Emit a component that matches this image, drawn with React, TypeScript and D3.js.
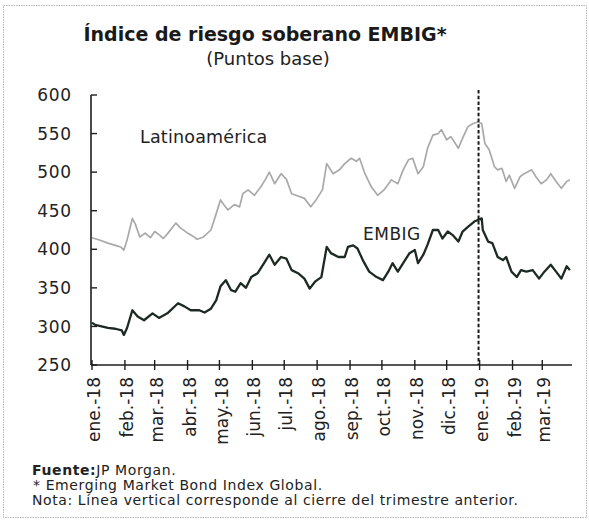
import React from "react";
import * as d3 from "d3";

const monthLabels = [
  "ene.-18", "feb.-18", "mar.-18", "abr.-18", "may.-18", "jun.-18", "jul.-18",
  "ago.-18", "sep.-18", "oct.-18", "nov.-18", "dic.-18", "ene.-19", "feb.-19", "mar.-19",
];
const yTicks = [250, 300, 350, 400, 450, 500, 550, 600];

const latamDates = [
  "2018-01-01", "2018-01-08", "2018-01-16", "2018-01-23", "2018-01-28", "2018-01-31",
  "2018-02-03", "2018-02-08", "2018-02-11", "2018-02-15", "2018-02-20", "2018-02-25",
  "2018-03-01", "2018-03-06", "2018-03-09", "2018-03-13", "2018-03-21", "2018-03-25",
  "2018-04-01", "2018-04-06", "2018-04-10", "2018-04-16", "2018-04-23", "2018-04-27",
  "2018-05-02", "2018-05-05", "2018-05-09", "2018-05-15", "2018-05-20", "2018-05-23",
  "2018-05-28", "2018-06-03", "2018-06-09", "2018-06-13", "2018-06-17", "2018-06-22",
  "2018-06-28", "2018-07-03", "2018-07-08", "2018-07-14", "2018-07-20", "2018-07-26",
  "2018-07-31", "2018-08-06", "2018-08-10", "2018-08-16", "2018-08-22", "2018-08-27",
  "2018-09-02", "2018-09-07", "2018-09-10", "2018-09-15", "2018-09-21", "2018-09-27",
  "2018-10-03", "2018-10-10", "2018-10-16", "2018-10-21", "2018-10-26", "2018-10-30",
  "2018-11-04", "2018-11-09", "2018-11-13", "2018-11-18", "2018-11-23", "2018-11-26",
  "2018-12-01", "2018-12-05", "2018-12-12", "2018-12-16", "2018-12-21", "2018-12-26",
  "2018-12-30", "2019-01-03", "2019-01-06", "2019-01-10", "2019-01-15", "2019-01-18",
  "2019-01-22", "2019-01-26", "2019-01-29", "2019-02-03", "2019-02-08", "2019-02-12",
  "2019-02-19", "2019-02-23", "2019-02-28", "2019-03-05", "2019-03-09", "2019-03-14",
  "2019-03-19", "2019-03-24", "2019-03-27",
];
const latamValues = [
  415, 412, 408, 405, 403, 399,
  412, 440, 432, 416, 421, 415,
  423, 418, 414, 420, 434, 428,
  421, 417, 413, 416, 425, 442,
  464, 458, 451, 458, 455, 472,
  477, 470, 481, 490, 500, 485,
  498, 491, 472, 469, 466, 455,
  464, 477, 511, 498, 503, 511,
  518, 514, 518, 498, 481, 470,
  477, 490, 485, 503, 516, 518,
  498, 507, 531, 548, 550, 555,
  542, 546, 531, 544, 559, 563,
  565, 563, 537, 529, 507, 503,
  505, 488, 496, 479, 494, 498,
  503, 494, 485, 490, 498, 488,
  479, 488, 490,
];

const embigDates = [
  "2018-01-01", "2018-01-04", "2018-01-16", "2018-01-23", "2018-01-29", "2018-01-31",
  "2018-02-03", "2018-02-08", "2018-02-13", "2018-02-19", "2018-02-27", "2018-03-05",
  "2018-03-13", "2018-03-23", "2018-03-29", "2018-04-04", "2018-04-12", "2018-04-17",
  "2018-04-23", "2018-04-28", "2018-05-02", "2018-05-07", "2018-05-12", "2018-05-16",
  "2018-05-21", "2018-05-26", "2018-05-31", "2018-06-06", "2018-06-12", "2018-06-17",
  "2018-06-22", "2018-06-28", "2018-07-03", "2018-07-08", "2018-07-14", "2018-07-20",
  "2018-07-25", "2018-07-30", "2018-08-05", "2018-08-10", "2018-08-14", "2018-08-21",
  "2018-08-27", "2018-08-30", "2018-09-04", "2018-09-08", "2018-09-13", "2018-09-19",
  "2018-09-26", "2018-10-02", "2018-10-07", "2018-10-11", "2018-10-16", "2018-10-21",
  "2018-10-27", "2018-11-01", "2018-11-04", "2018-11-09", "2018-11-13", "2018-11-18",
  "2018-11-23", "2018-11-27", "2018-12-02", "2018-12-07", "2018-12-12", "2018-12-16",
  "2018-12-21", "2018-12-27", "2019-01-03", "2019-01-04", "2019-01-09", "2019-01-13",
  "2019-01-18", "2019-01-23", "2019-01-26", "2019-01-31", "2019-02-05", "2019-02-09",
  "2019-02-14", "2019-02-20", "2019-02-26", "2019-03-03", "2019-03-09", "2019-03-14",
  "2019-03-19", "2019-03-24", "2019-03-27",
];
const embigValues = [
  305, 302, 298, 297, 295, 289,
  298, 321, 313, 308, 317, 311,
  317, 330, 326, 321, 321, 318,
  323, 334, 352, 360, 347, 345,
  356, 350, 364, 369, 382, 393,
  380, 390, 388, 373, 369, 362,
  349, 358, 364, 403, 395, 390,
  390, 403, 405, 401, 386, 371,
  364, 360, 371, 382, 371, 382,
  395, 399, 382, 393, 406, 425,
  425, 414, 423, 418, 410, 423,
  429, 436, 440, 425, 410, 408,
  390, 386, 390, 371, 364, 373,
  371, 373, 362, 371, 380, 371,
  362, 378, 373,
];

const quarterClose = "2018-12-31";

const parse = d3.timeParse("%Y-%m-%d");

export default function App() {
  const W = 589;
  const H = 521;
  const x0 = 92;
  const x1 = 572;
  const yTop = 95;
  const yBot = 365;

  const x = d3.scaleTime().domain([new Date(2018, 0, 1), new Date(2019, 2, 29)]).range([x0, x1]);
  const y = d3.scaleLinear().domain([250, 600]).range([yBot, yTop]);

  const latam = latamDates.map((d, i) => ({ date: parse(d) as Date, v: latamValues[i] }));
  const embig = embigDates.map((d, i) => ({ date: parse(d) as Date, v: embigValues[i] }));

  const line = d3
    .line<{ date: Date; v: number }>()
    .x((d) => x(d.date))
    .y((d) => y(d.v));

  const months = d3.timeMonth.range(new Date(2018, 0, 1), new Date(2019, 3, 1));
  const qx = x(parse(quarterClose) as Date);

  const font = "'DejaVu Sans', sans-serif";
  const axisColor = "#1e1e1e";

  return (
    <svg
      width={W}
      height={H}
      style={{ position: "absolute", left: 0, top: 0, background: "#fff" }}
      fontFamily={font}
    >
      <rect x={3.5} y={5.5} width={583} height={512} fill="#fff" stroke="#b5b5b5" strokeWidth={1} strokeDasharray="1.5 1" />

      <text x={265} y={41} textAnchor="middle" fontSize={19} fontWeight="bold" fill="#1a1a1a">
        Índice de riesgo soberano EMBIG*
      </text>
      <text x={268} y={65} textAnchor="middle" fontSize={18} fill="#222">
        (Puntos base)
      </text>

      {/* series */}
      <path d={line(latam) || ""} fill="none" stroke="#a9a9a9" strokeWidth={1.7} strokeLinejoin="round" />
      <path d={line(embig) || ""} fill="none" stroke="#1d2a22" strokeWidth={2.3} strokeLinejoin="round" />

      {/* vertical quarter line */}
      <line x1={qx} x2={qx} y1={90} y2={yBot} stroke="#1a1a1a" strokeWidth={2} strokeDasharray="3.5 2.2" />

      {/* y axis */}
      <line x1={x0 - 1} x2={x0 - 1} y1={yTop} y2={yBot} stroke={axisColor} strokeWidth={1.6} />
      {yTicks.map((t) => (
        <g key={t}>
          <line x1={x0 - 1} x2={x0 + 5} y1={y(t)} y2={y(t)} stroke={axisColor} strokeWidth={1.4} />
          <text x={72} y={y(t)} dy="0.36em" textAnchor="end" fontSize={17} letterSpacing={0.8} fill="#222">
            {t}
          </text>
        </g>
      ))}

      {/* x axis */}
      <line x1={x0 - 1} x2={x1} y1={yBot} y2={yBot} stroke={axisColor} strokeWidth={1.6} />
      {months.map((m, i) => (
        <g key={i}>
          <line x1={x(m)} x2={x(m)} y1={yBot - 5} y2={yBot + 5} stroke={axisColor} strokeWidth={1.4} />
          <text
            transform={`translate(${x(m) + 2},${yBot + 12}) rotate(-90)`}
            dy="0.36em"
            textAnchor="end"
            fontSize={17}
            fill="#222"
          >
            {monthLabels[i]}
          </text>
        </g>
      ))}

      {/* series labels */}
      <text x={140} y={143} fontSize={17.5} letterSpacing={0.2} fill="#222">Latinoamérica</text>
      <text x={363} y={240} fontSize={17} letterSpacing={0.5} fill="#222">EMBIG</text>

      {/* footnotes */}
      <text x={32} y={475} fontSize={14} letterSpacing={0.6} fill="#222">
        <tspan fontWeight="bold">Fuente:</tspan>JP Morgan.
      </text>
      <text x={33} y={490} fontSize={14} letterSpacing={0.6} fill="#222">* Emerging Market Bond Index Global.</text>
      <text x={32} y={505} fontSize={14} letterSpacing={0.6} fill="#222">Nota: Línea vertical corresponde al cierre del trimestre anterior.</text>
    </svg>
  );
}
